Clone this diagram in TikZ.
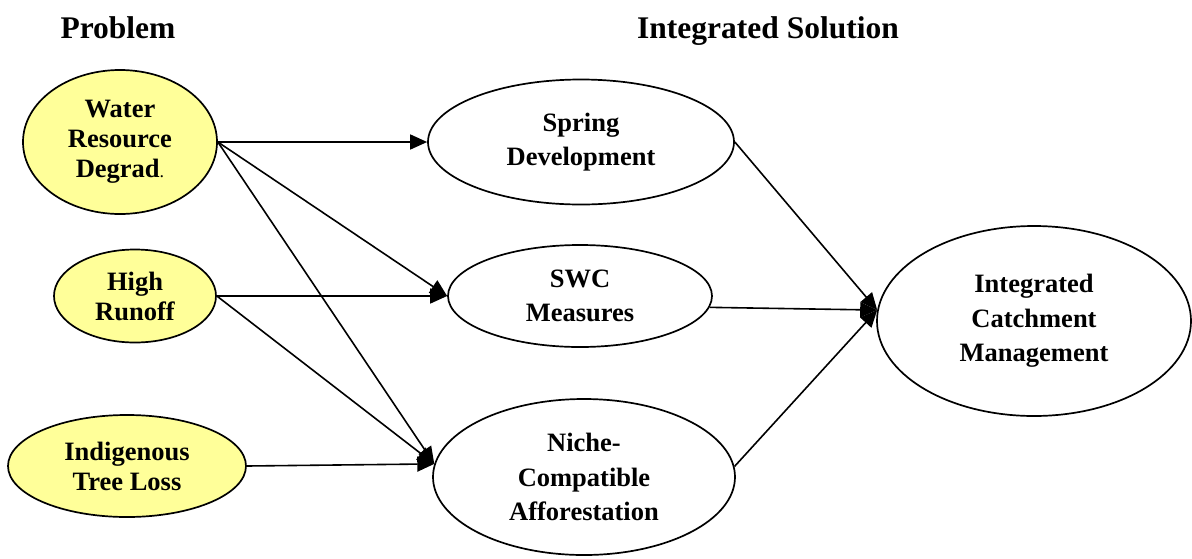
\documentclass[tikz,border=0pt]{standalone}
\usepackage{fontspec}
\setmainfont{Liberation Serif}
\usetikzlibrary{arrows.meta,shapes.geometric}
\definecolor{probfill}{HTML}{FFFF99}
\tikzset{
  ell/.style={draw=black, line width=1.7pt, ellipse, inner sep=0pt, align=center},
  prob/.style={ell, fill=probfill, font=\fontsize{26.5}{30}\selectfont\bfseries},
  sol/.style={ell, fill=white, font=\fontsize{26.5}{34.5}\selectfont\bfseries},
  title/.style={anchor=base, font=\fontsize{31.5}{34}\selectfont\bfseries},
  conn/.style={line width=1.6pt, -{Triangle[length=17pt,width=15pt]}}
}
\begin{document}
\begin{tikzpicture}[x=1pt,y=-1pt]
\useasboundingbox (0,0) rectangle (1192,558);
\node[title] (tprob) at (118,38) {Problem};
\node[title] (tsol) at (768,38) {Integrated Solution};

\node[prob, minimum width=194pt, minimum height=144pt] (wrd) at (120,142) {Water\\Resource\\Degrad{\mdseries\fontsize{18}{20}\selectfont.}};
\node[prob, minimum width=162pt, minimum height=93pt] (hr) at (135,296) {High\\Runoff};
\node[prob, minimum width=238pt, minimum height=102pt] (itl) at (127,466) {Indigenous\\Tree Loss};

\node[sol, minimum width=306pt, minimum height=125pt] (spring) at (581,142) {Spring\\Development};
\node[sol, minimum width=264pt, minimum height=102pt] (swc) at (580,296) {SWC\\Measures};
\node[sol, minimum width=302pt, minimum height=156pt] (niche) at (584,477) {Niche-\\Compatible\\Afforestation};
\node[sol, minimum width=314pt, minimum height=190pt] (icm) at (1034,321) {Integrated\\Catchment\\Management};

\draw[conn] (wrd.east) -- (spring.west);
\draw[conn] (wrd.east) -- (swc.west);
\draw[conn] (wrd.east) -- (niche.175);
\draw[conn] (hr.east) -- (swc.west);
\draw[conn] (hr.east) -- (niche.175);
\draw[conn] (itl.east) -- (niche.175);
\draw[conn] (spring.east) -- (icm.176);
\draw[conn] (swc.-5) -- (icm.176);
\draw[conn] (niche.4) -- (icm.176);
\end{tikzpicture}
\end{document}
